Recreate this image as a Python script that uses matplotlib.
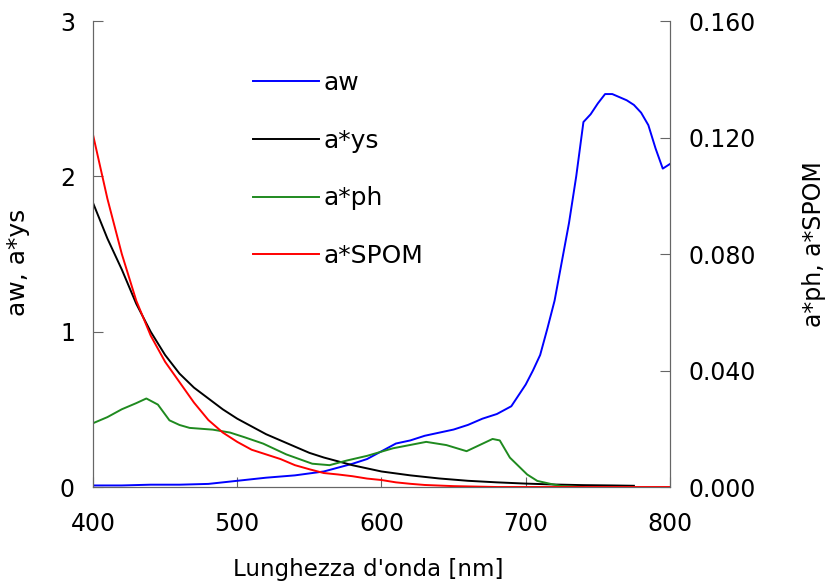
import numpy as np
import matplotlib
matplotlib.use("Agg")
import matplotlib.pyplot as plt

# aw (left axis)
wl_aw = [400, 420, 440, 460, 480, 500, 520, 540, 560, 580, 590, 600, 610, 620, 630, 640,
         650, 660, 670, 680, 690, 700, 705, 710, 715, 720, 725, 730, 735, 740, 745, 750,
         755, 760, 765, 770, 775, 780, 785, 790, 795, 800]
aw = [0.01, 0.01, 0.015, 0.015, 0.02, 0.04, 0.06, 0.075, 0.10, 0.15, 0.18, 0.23, 0.28, 0.30,
      0.33, 0.35, 0.37, 0.40, 0.44, 0.47, 0.52, 0.66, 0.75, 0.85, 1.02, 1.2, 1.45, 1.7, 2.0,
      2.35, 2.40, 2.47, 2.53, 2.53, 2.51, 2.49, 2.46, 2.41, 2.33, 2.18, 2.05, 2.08]

# a*ys (left axis)
wl_ys = [400, 410, 420, 430, 440, 450, 460, 470, 480, 490, 500, 510, 520, 530, 540, 550,
         560, 570, 580, 590, 600, 620, 640, 660, 680, 700, 720, 740, 760, 775]
ays = [1.83, 1.6, 1.4, 1.18, 1.0, 0.85, 0.73, 0.64, 0.57, 0.5, 0.44, 0.39, 0.34, 0.30, 0.26,
       0.22, 0.19, 0.165, 0.14, 0.12, 0.10, 0.075, 0.055, 0.04, 0.03, 0.022, 0.016, 0.012,
       0.01, 0.008]

# a*ph (right axis)
wl_ph = [400, 410, 420, 430, 437, 445, 453, 460, 467, 483, 495, 505, 518, 534, 552, 564,
         576, 590, 608, 631, 645, 659, 668, 677, 682, 689, 701, 708, 717, 725, 740]
aph = [0.0219, 0.0240, 0.0267, 0.0288, 0.0304, 0.0283, 0.0229, 0.0213, 0.0203, 0.0197,
       0.0187, 0.0171, 0.0149, 0.0112, 0.0080, 0.0075, 0.0091, 0.0107, 0.0133, 0.0155,
       0.0144, 0.0123, 0.0144, 0.0165, 0.0160, 0.0101, 0.0043, 0.0021, 0.0011, 0.0003, 0.0]

# a*SPOM (right axis)
wl_spom = [400, 410, 420, 430, 440, 450, 460, 470, 480, 490, 500, 510, 520, 530, 540, 550,
           560, 570, 580, 590, 600, 610, 620, 630, 650, 680, 800]
aspom = [0.121, 0.099, 0.080, 0.064, 0.052, 0.043, 0.036, 0.029, 0.023, 0.0187, 0.0155,
         0.0128, 0.0112, 0.0096, 0.0075, 0.0061, 0.0048, 0.0043, 0.0037, 0.0029, 0.0024,
         0.0016, 0.0011, 0.0007, 0.0003, 0.0, 0.0]

fig = plt.figure(figsize=(8.25, 5.85), dpi=100)
ax = fig.add_axes([0.1127, 0.1675, 0.6994, 0.7965])
ax2 = ax.twinx()

l1, = ax.plot(wl_aw, aw, color="#0000ff", lw=1.4, label="aw")
l2, = ax.plot(wl_ys, ays, color="black", lw=1.4, label="a*ys")
l3, = ax2.plot(wl_ph, aph, color="#1f8a1f", lw=1.4, label="a*ph")
l4, = ax2.plot(wl_spom, aspom, color="#ff0000", lw=1.4, label="a*SPOM")

ax.set_xlim(400, 800)
ax.set_ylim(0, 3)
ax2.set_ylim(0, 0.16)
ax.set_xticks([400, 500, 600, 700, 800])
ax.set_yticks([0, 1, 2, 3])
ax2.set_yticks([0, 0.04, 0.08, 0.12, 0.16])
ax2.set_yticklabels(["0.000", "0.040", "0.080", "0.120", "0.160"])

for a in (ax, ax2):
    a.spines["top"].set_visible(False)
    for s in ("left", "right", "bottom"):
        a.spines[s].set_color("#666666")
    a.tick_params(direction="in", length=7, color="#666666", labelsize=17)
ax.tick_params(axis="x", pad=18)
ax.tick_params(axis="y", pad=13)
ax2.tick_params(axis="y", pad=13)

ax.set_xlabel("Lunghezza d'onda [nm]", fontsize=16.5)
ax.set_ylabel("aw, a*ys", fontsize=18)
ax2.set_ylabel("a*ph, a*SPOM", fontsize=17)
ax.xaxis.set_label_coords(0.4775, -0.152)
ax.yaxis.set_label_coords(-0.109, 0.483)
ax2.yaxis.set_label_coords(1.229, 0.521)

ax.legend(handles=[l1, l2, l3, l4], loc="upper left", bbox_to_anchor=(0.277, 0.893),
          frameon=False, fontsize=18, handlelength=2.64, handletextpad=0.2,
          labelspacing=1.35, borderpad=0, borderaxespad=0)

fig.savefig("out.png", dpi=100)
